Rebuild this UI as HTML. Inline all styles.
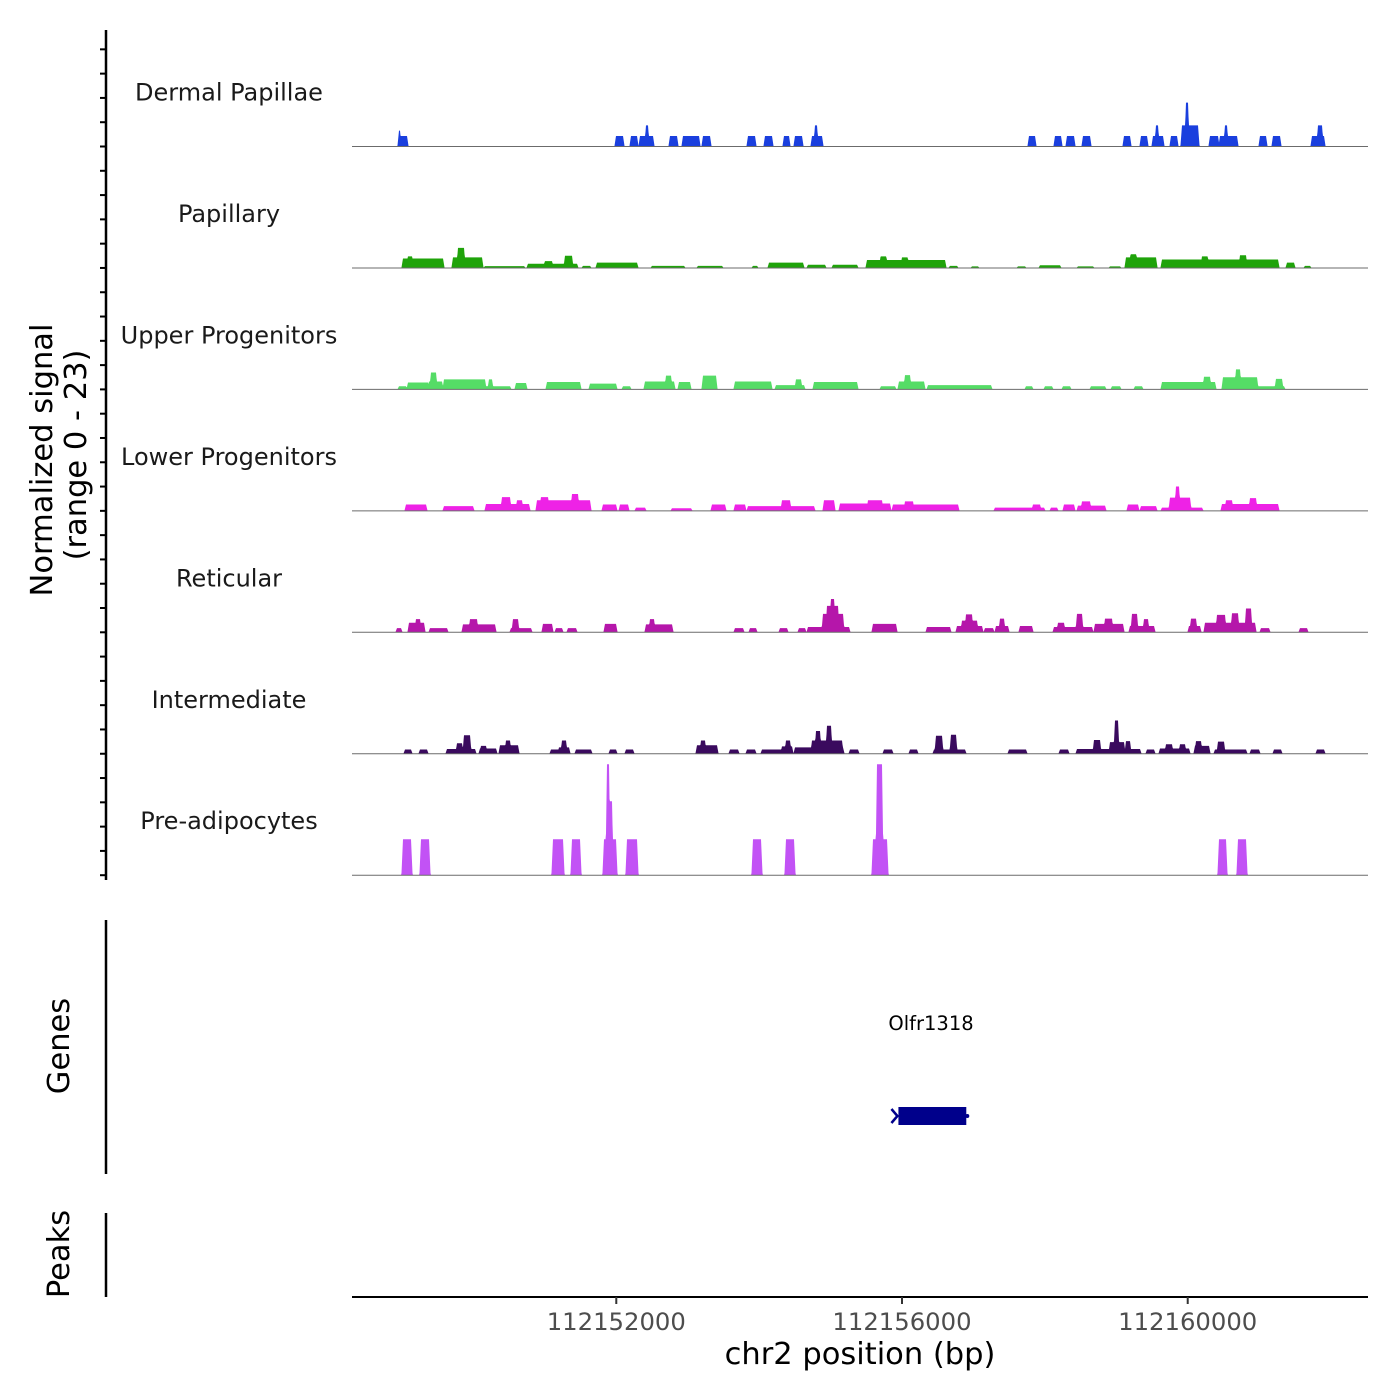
<!DOCTYPE html>
<html>
<head>
<meta charset="utf-8">
<style>
  html,body{margin:0;padding:0;background:#fff;}
  svg{display:block;font-family:"DejaVu Sans","Liberation Sans",sans-serif;}
</style>
</head>
<body>
<svg id="chart" width="1400" height="1400" viewBox="0 0 1400 1400" xmlns="http://www.w3.org/2000/svg">
  <rect x="0" y="0" width="1400" height="1400" fill="#fff"/>
  <g id="tracks"></g>
  <g id="yaxis"></g>
  <text transform="translate(52,460) rotate(-90)" text-anchor="middle" font-size="30.5" fill="#000">Normalized signal</text>
  <text transform="translate(86,455) rotate(-90)" text-anchor="middle" font-size="30.5" fill="#000">(range 0 - 23)</text>

  <line x1="106" y1="920" x2="106" y2="1174" stroke="#000" stroke-width="2.5"/>
  <text transform="translate(69,1046) rotate(-90)" text-anchor="middle" font-size="30.5" fill="#000">Genes</text>
  <text x="931" y="1030" text-anchor="middle" font-size="19.5" fill="#000">Olfr1318</text>
  <g id="gene"></g>

  <line x1="106" y1="1213" x2="106" y2="1297" stroke="#000" stroke-width="2.5"/>
  <text transform="translate(69,1254) rotate(-90)" text-anchor="middle" font-size="30.5" fill="#000">Peaks</text>

  <line x1="352" y1="1297" x2="1368" y2="1297" stroke="#000" stroke-width="2"/>
  <g id="xaxis"></g>
  <text x="860" y="1364" text-anchor="middle" font-size="30.5" fill="#000">chr2 position (bp)</text>
</svg>
<script>
// ---- data (positions are bp offsets from regionStart; values are normalized signal) ----
const regionStart = 112148300;
const regionEnd = 112162524;
const signalMax = 23;
const trackNames = ["Dermal Papillae","Papillary","Upper Progenitors","Lower Progenitors","Reticular","Intermediate","Pre-adipocytes"];
const trackColors = ["#1a3fde","#1fa30a","#55dc66","#ee22e6","#b516aa","#3a0a5e","#c252f5"];
const xTicks = [112152000,112156000,112160000];
const geneStart = 112155950;
const geneEnd = 112156900;
const geneName = "Olfr1318";

const dermalPeaks = [[658,770,2],[658,672,3],[3696,3794,2],[3906,3990,2],[4032,4214,2],[4116,4144,4],[4452,4550,2],[4634,4858,2],[4914,5012,2],[5544,5642,2],[5782,5880,2],[6048,6118,2],[6202,6300,2],[6440,6580,2],[6482,6510,4],[9478,9562,2],[9842,9926,2],[10010,10108,2],[10234,10332,2],[10808,10892,2],[11046,11130,2],[11214,11354,2],[11256,11284,4],[11466,11550,2],[11620,11844,4],[11676,11704,8.3],[12012,12124,2],[12152,12390,2],[12222,12250,4],[12712,12796,2],[12894,12992,2],[13440,13608,2],[13524,13580,4]];
const papillaryPeaks = [[714,1274,1.8],[784,840,2.2],[1414,1820,2],[1484,1568,3.8],[1862,2408,0.35],[2464,3150,0.8],[2700,2800,1.3],[2982,3080,2.3],[3234,3332,0.4],[3430,3990,1],[4200,4648,0.4],[4844,5180,0.4],[5614,5670,0.4],[5838,6314,1],[6384,6622,0.6],[6734,7070,0.6],[7210,8302,1.5],[7400,7480,2.2],[7700,7780,2],[8372,8470,0.4],[8680,8764,0.3],[9324,9422,0.3],[9632,9912,0.5],[10164,10374,0.3],[10612,10752,0.3],[10836,11256,2],[10900,10980,2.6],[11340,12964,1.6],[11900,11980,2.2],[12432,12516,2.4],[13090,13188,1],[13342,13412,0.4]];
const upperPeaks = [[658,756,0.6],[784,1064,1.3],[1078,1260,1.5],[1106,1176,3.2],[1288,1862,1.9],[1862,2212,0.6],[1918,1960,1.9],[2296,2436,1.2],[2730,3192,1.4],[3332,3696,1.1],[3794,3892,0.6],[4102,4508,1.5],[4396,4466,2.6],[4578,4732,1.4],[4914,5096,2.6],[5362,5866,1.5],[5936,6328,0.8],[6216,6286,1.9],[6468,7070,1.4],[7406,7602,0.6],[7658,8008,1.5],[7742,7812,2.7],[8064,8946,0.8],[9436,9520,0.6],[9702,9800,0.6],[9954,10052,0.6],[10346,10542,0.6],[10640,10752,0.6],[10962,11060,0.6],[11340,12082,1.4],[11928,12012,2.4],[12194,12670,2.3],[12376,12432,3.8],[12684,13048,0.6],[12936,13020,2]];
const lowerPeaks = [[756,1036,1.2],[1288,1694,0.9],[1876,2478,1.3],[2100,2212,2.6],[2310,2380,2],[2590,3332,2],[2646,2744,2.6],[3080,3164,3.2],[3514,3696,1.2],[3752,3864,1.2],[3976,4102,0.6],[4480,4746,0.5],[5040,5222,1.2],[5362,5502,1.2],[5544,6468,0.9],[6020,6132,2],[6608,6748,2],[6832,7532,1.4],[7224,7420,2],[7574,8484,1.2],[7742,7854,1.8],[9002,9688,0.6],[9534,9632,1.2],[9786,9870,0.6],[9968,10108,1.2],[10164,10542,1],[10220,10332,1.8],[10864,11004,1.2],[11046,11256,0.9],[11340,11900,0.6],[11452,11732,2.5],[11536,11578,4.6],[12180,12964,1.3],[12236,12320,2],[12572,12656,2.4]];
const reticularPeaks = [[630,686,0.8],[798,1008,1.8],[896,952,2.5],[1092,1330,0.8],[1554,2002,1.5],[1652,1750,2.5],[2226,2506,0.8],[2254,2324,2.5],[2674,2800,1.6],[2856,2940,0.8],[3024,3136,0.8],[3542,3696,1.6],[4116,4480,1.5],[4172,4228,2.5],[5362,5474,0.8],[5572,5656,0.8],[5992,6090,0.8],[6258,6342,0.8],[6384,6958,1],[6594,6874,3.5],[6650,6804,5],[6706,6748,6.3],[7294,7616,1.6],[8050,8372,1],[8470,8820,1.2],[8540,8750,2.2],[8596,8680,3.4],[8862,8974,0.8],[9016,9184,1.2],[9072,9128,2.6],[9352,9520,1.2],[9828,10360,1],[9884,9968,1.8],[10150,10220,3.5],[10402,10794,1.6],[10542,10640,2.6],[10892,11228,1.2],[10920,10990,3.5],[11088,11144,2.5],[11718,11872,1.2],[11746,11816,2.6],[11942,12642,1.8],[12110,12222,3.3],[12320,12404,3.6],[12516,12586,4.5],[12726,12838,0.8],[13272,13370,0.8]];
const intermediatePeaks = [[742,826,0.8],[952,1050,0.8],[1330,1722,0.9],[1470,1540,2],[1568,1652,3.5],[1792,2016,1],[1806,1876,1.5],[2072,2324,1.6],[2156,2212,2.5],[2786,2884,0.8],[2898,3038,1.2],[2940,2996,2.5],[3136,3346,0.8],[3612,3696,0.8],[3836,3934,0.8],[4830,5110,1.6],[4886,4942,2.5],[5292,5404,0.8],[5530,5642,0.8],[5740,6006,0.8],[6020,6160,1.4],[6076,6132,2.5],[6202,6874,1.2],[6440,6860,2.5],[6496,6552,4.3],[6650,6706,5.3],[6972,7084,0.8],[7448,7560,0.8],[7812,7910,0.8],[8148,8582,0.8],[8176,8260,3.4],[8386,8456,3.6],[9198,9436,0.8],[9912,10024,0.8],[10150,11032,0.9],[10388,10472,2.6],[10612,10808,2.2],[10682,10724,6.3],[10836,10892,2.4],[11130,11228,0.8],[11312,11718,1],[11396,11480,1.8],[11592,11662,1.8],[11802,11998,1.5],[11816,11886,2.4],[12082,12516,0.8],[12124,12208,2.3],[12586,12698,0.8],[12908,13006,0.8],[13510,13608,0.8]];
const preadipocytePeaks = [[714,826,6.8],[966,1078,6.8],[2814,2954,6.8],[3080,3192,6.8],[3528,3696,6.8],[3570,3598,21],[3598,3640,14],[3850,3990,6.8],[5614,5726,6.8],[6076,6188,6.8],[7294,7490,6.8],[7350,7420,21],[12138,12236,6.8],[12404,12516,6.8]];
const allPeaks = [dermalPeaks,papillaryPeaks,upperPeaks,lowerPeaks,reticularPeaks,intermediatePeaks,preadipocytePeaks];

// ---- layout ----
const NS = "http://www.w3.org/2000/svg";
const plotLeft = 352, plotRight = 1368;
const firstBaseline = 146.5, trackH = 121.45;
function xScale(bp){ return plotLeft + (bp - regionStart) / (regionEnd - regionStart) * (plotRight - plotLeft); }
function yScale(v, track){ return firstBaseline + track*trackH - v / signalMax * trackH; }
function mk(tag, attrs, parent){ const e = document.createElementNS(NS, tag); for (const k in attrs) e.setAttribute(k, attrs[k]); parent.appendChild(e); return e; }

const tracksG = document.getElementById('tracks');
const ramp = 1.6;
allPeaks.forEach((peaks, t) => {
  const base = yScale(0, t);
  const segs = peaks.map(p => [xScale(regionStart + p[0]), xScale(regionStart + p[1]), p[2]]);
  let d = `M${plotLeft},${base}`;
  for (let x = plotLeft; x <= plotRight; x += 0.5) {
    let v = 0;
    for (const s of segs) {
      if (x < s[0] - ramp || x > s[1] + ramp) continue;
      const w = Math.min(x - (s[0] - ramp), (s[1] + ramp) - x) / ramp;
      const val = s[2] * Math.max(0, Math.min(1, w));
      if (val > v) v = val;
    }
    d += `L${x},${yScale(v, t).toFixed(2)}`;
  }
  d += `L${plotRight},${base}Z`;
  const area = mk('path', {d: d, fill: trackColors[t], stroke: 'none'}, tracksG);
  
  
  const bl = mk('line', {x1: plotLeft, x2: plotRight, y1: base, y2: base, stroke: '#6b6b6b', 'stroke-width': 1}, tracksG);
  
  
  const lbl = mk('text', {x: 229, y: yScale(0, t) - 46, 'text-anchor': 'middle', 'font-size': 24, fill: '#1a1a1a'}, tracksG);
  lbl.textContent = trackNames[t];
  
  
});

// y axis with ticks
const yG = document.getElementById('yaxis');
mk('line', {x1: 106, x2: 106, y1: 30, y2: 880, stroke: '#000', 'stroke-width': 2.5}, yG);
for (let k = 0; k <= 34; k++) {
  const y = yScale(0, 6) - k * trackH / 5;
  const tk = mk('line', {x1: 100, x2: 106, y1: y, y2: y, stroke: '#000', 'stroke-width': 2}, yG);
  
  
}

// x axis
const xG = document.getElementById('xaxis');
xTicks.forEach(v => {
  const x = xScale(v);
  const tk = mk('line', {x1: x, x2: x, y1: 1297, y2: 1304, stroke: '#333', 'stroke-width': 2}, xG);
  
  
  const tl = mk('text', {x: x, y: 1330, 'text-anchor': 'middle', 'font-size': 24.3, fill: '#4d4d4d'}, xG);
  tl.textContent = String(v);
  
  
});

// gene
const gG = document.getElementById('gene');
const gx1 = xScale(geneStart), gx2 = xScale(geneEnd);
const gr = mk('rect', {x: gx1, y: 1107, width: gx2 - gx1, height: 18, fill: '#00008b'}, gG);


const ga = mk('path', {d: `M${gx1-7},1109 L${gx1-1},1116 L${gx1-7},1123`, fill: 'none', stroke: '#00008b', 'stroke-width': 2.5}, gG);


const gd = mk('circle', {cx: gx2 + 1, cy: 1116, r: 2, fill: '#00008b'}, gG);


</script>
</body>
</html>
